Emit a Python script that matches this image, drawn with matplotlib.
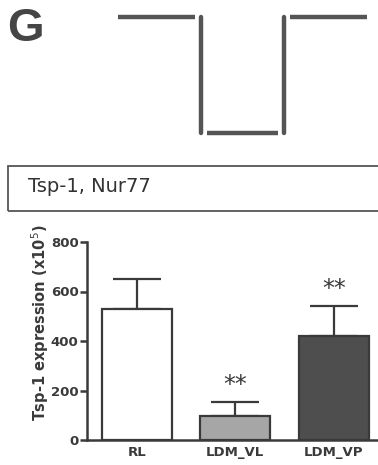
import matplotlib
matplotlib.use("Agg")
import matplotlib.pyplot as plt
from matplotlib.patches import Rectangle

# bar chart data
groups = ["RL", "LDM_VL", "LDM_VP"]
means = [529, 97, 420]
sem = [121, 57, 121]
signif = ["", "**", "**"]
bar_colors = ["#ffffff", "#a6a6a6", "#4e4e4e"]

# light schedule drawn above the chart: level per phase
phase_edges = [0, 1, 2, 3]
phase_level = [1, 0, 1]

panel_letter = "G"
gene_label = "Tsp-1, Nur77"
ylabel = "Tsp-1 expression (x10$^5$)"

ink = "#3a3a3a"
plt.rcParams["font.family"] = ["DejaVu Sans"]

W, H = 378, 465
fig = plt.figure(figsize=(W / 100, H / 100), dpi=100)

fig.text(7 / W, 1 - 29 / H, panel_letter, fontsize=34, fontweight="bold",
         color="#454545", va="center", ha="left", family=["Liberation Sans"])

# schedule trace
ax_s = fig.add_axes([118 / W, 1 - 140 / H, (367 - 118) / W, (140 - 10) / H])
ax_s.set_xlim(phase_edges[0], phase_edges[-1])
ax_s.set_ylim(-0.06, 1.06)
ax_s.axis("off")
gap = 0.07
for i, lvl in enumerate(phase_level):
    x0 = phase_edges[i] + (gap if i > 0 else 0)
    x1 = phase_edges[i + 1] - (gap if i < len(phase_level) - 1 else 0)
    ax_s.plot([x0, x1], [lvl, lvl], color="#555555", lw=3.2,
              solid_capstyle="butt")
for i in range(1, len(phase_level)):
    ax_s.plot([phase_edges[i], phase_edges[i]],
              [phase_level[i - 1], phase_level[i]], color="#555555", lw=3.2,
              solid_capstyle="round")

# label box
fig.patches.append(Rectangle((8 / W, 1 - 211 / H), 400 / W, 45 / H,
                             transform=fig.transFigure, fill=False,
                             edgecolor="#555555", lw=1.3))
fig.text(28 / W, 1 - 186 / H, gene_label, fontsize=14, color="#333333",
         va="center", ha="left")

# bar chart
ax = fig.add_axes([87 / W, 25 / H, 1 - 87 / W, 198 / H])
x = list(range(len(groups)))
ax.bar(x, means, width=0.71, color=bar_colors, edgecolor=ink, lw=1.6,
       zorder=2)
ax.errorbar(x, means, yerr=[[0] * len(sem), sem], fmt="none", ecolor=ink,
            elinewidth=1.6, capsize=17, capthick=1.6, zorder=1)
for xi, m, s, lab in zip(x, means, sem, signif):
    if lab:
        ax.text(xi, m + s + 20, lab, ha="center", va="bottom", fontsize=17,
                color=ink)

ax.set_xlim(-0.508, 2.45)
ax.set_ylim(0, 800)
ax.set_yticks([0, 200, 400, 600, 800])
ax.set_xticks(x)
ax.set_xticklabels(groups)
for side in ["top", "right"]:
    ax.spines[side].set_visible(False)
for side in ["left", "bottom"]:
    ax.spines[side].set_linewidth(1.8)
    ax.spines[side].set_color(ink)
ax.tick_params(axis="y", direction="out", length=5, width=1.8, color=ink,
               labelsize=9.5, labelcolor=ink, pad=1)
ax.tick_params(axis="x", length=0, labelsize=9.5, labelcolor=ink, pad=4)
for t in ax.get_yticklabels() + ax.get_xticklabels():
    t.set_fontweight("bold")
ax.set_ylabel(ylabel, fontsize=10.5, fontweight="bold", color=ink)
ax.yaxis.set_label_coords(-0.125, 0.59)

fig.savefig("out.png", dpi=100)
